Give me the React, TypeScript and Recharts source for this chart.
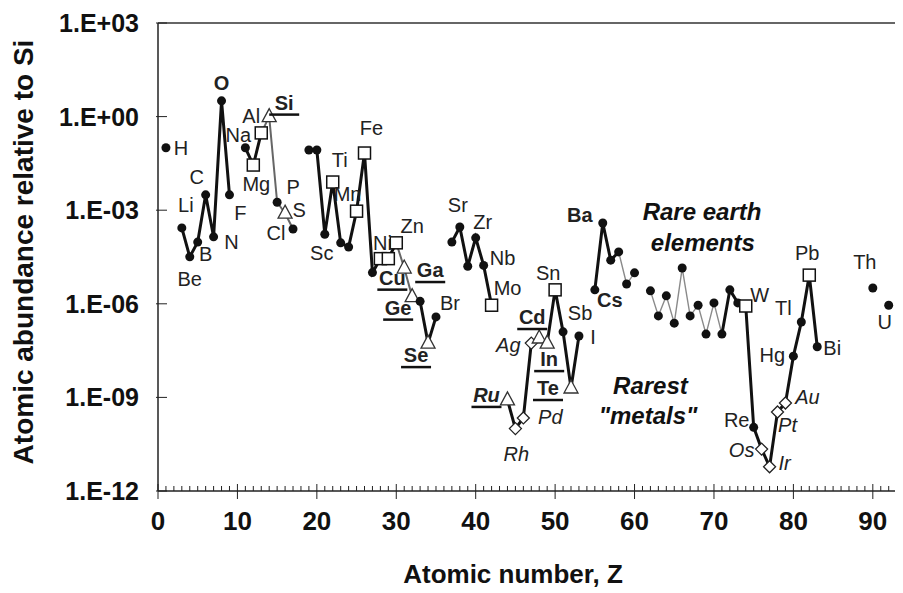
import React from 'react';
import { ComposedChart, Line, Scatter, XAxis, YAxis, ReferenceLine } from 'recharts';

const symbols = ['H', 'Li', 'Be', 'B', 'C', 'N', 'O', 'F', 'Na', 'Mg', 'Al', 'Si', 'P', 'S', 'Cl', 'K', 'Ca', 'Sc', 'Ti', 'V', 'Cr', 'Mn', 'Fe', 'Co', 'Ni', 'Cu', 'Zn', 'Ga', 'Ge', 'As', 'Se', 'Br', 'Rb', 'Sr', 'Y', 'Zr', 'Nb', 'Mo', 'Ru', 'Rh', 'Pd', 'Ag', 'Cd', 'In', 'Sn', 'Sb', 'Te', 'I', 'Cs', 'Ba', 'La', 'Ce', 'Pr', 'Nd', 'Sm', 'Eu', 'Gd', 'Tb', 'Dy', 'Ho', 'Er', 'Tm', 'Yb', 'Lu', 'Hf', 'Ta', 'W', 'Re', 'Os', 'Ir', 'Pt', 'Au', 'Hg', 'Tl', 'Pb', 'Bi', 'Th', 'U'];
const atomicNumbers = [1, 3, 4, 5, 6, 7, 8, 9, 11, 12, 13, 14, 15, 16, 17, 19, 20, 21, 22, 23, 24, 25, 26, 27, 28, 29, 30, 31, 32, 33, 34, 35, 37, 38, 39, 40, 41, 42, 44, 45, 46, 47, 48, 49, 50, 51, 52, 53, 55, 56, 57, 58, 59, 60, 62, 63, 64, 65, 66, 67, 68, 69, 70, 71, 72, 73, 74, 75, 76, 77, 78, 79, 80, 81, 82, 83, 90, 92];
const abundance = [
  1e-1, 2.7e-4, 3.2e-5, 9.5e-5, 3.1e-3, 1.4e-4, 3.2, 3.1e-3,
  1e-1, 2.8e-2, 0.3, 1, 1.8e-3, 8e-4, 2.5e-4,
  8.5e-2, 8.5e-2, 1.7e-4, 8e-3, 9e-5, 6.6e-5, 9.3e-4, 6.8e-2, 1e-5, 2.8e-5, 2.8e-5, 9e-5,
  1.4e-5, 1.7e-6, 1.2e-6, 5.5e-8, 3.8e-7,
  9.5e-5, 2.9e-4, 1.6e-5, 1.3e-4, 1.7e-5, 9e-7,
  8.3e-10, 1e-10, 2.2e-10, 5.5e-8, 8e-8, 5.5e-8, 2.8e-6, 1.26e-7, 2e-9, 9.3e-8,
  2.8e-6, 3.9e-4, 2.5e-5, 4.6e-5, 4.3e-6, 9.8e-6,
  2.6e-6, 4.1e-7, 1.8e-6, 2.4e-7, 1.4e-5, 4.1e-7, 9e-7, 1.07e-7, 1.07e-6, 1.07e-7,
  2.8e-6, 1.07e-6, 8.5e-7, 1.1e-10, 2.2e-11, 6e-12, 3.4e-10, 6.6e-10, 2.1e-8, 2.6e-7, 8.3e-6, 4.2e-8,
  3.2e-6, 9e-7,
];
// marker per element: c = filled circle, s = square, t = triangle, d = diamond
const squares = ['Mg', 'Al', 'Ti', 'Mn', 'Fe', 'Ni', 'Cu', 'Zn', 'Mo', 'Sn', 'W', 'Pb'];
const triangles = ['Si', 'S', 'Ga', 'Ge', 'Se', 'Ru', 'Cd', 'In', 'Te'];
const diamonds = ['Rh', 'Pd', 'Ag', 'Os', 'Ir', 'Pt', 'Au'];

const thickRuns = [
  ['Li', 'Be', 'B', 'C', 'N', 'O', 'F'],
  ['Na', 'Mg', 'Al'],
  ['K', 'Ca', 'Sc', 'Ti', 'V', 'Cr', 'Mn', 'Fe', 'Co', 'Ni', 'Cu', 'Zn'],
  ['Ge', 'As', 'Se', 'Br'],
  ['Rb', 'Sr', 'Y', 'Zr', 'Nb', 'Mo'],
  ['Ru', 'Rh', 'Pd', 'Ag', 'Cd', 'In', 'Sn', 'Sb', 'Te', 'I'],
  ['Cs', 'Ba', 'La', 'Ce'],
  ['Lu', 'Hf', 'Ta', 'W', 'Re', 'Os', 'Ir', 'Pt', 'Au', 'Hg', 'Tl', 'Pb', 'Bi'],
];
const grayRuns = [
  ['Al', 'Si', 'P', 'S', 'Cl'],
  ['Zn', 'Ga', 'Ge'],
];
const thinRuns = [
  ['Ce', 'Pr', 'Nd'],
  ['Sm', 'Eu', 'Gd', 'Tb', 'Dy', 'Ho', 'Er', 'Tm', 'Yb', 'Lu'],
];

// label: symbol, dx, dy, style
const labelOffsets: [string, number, number, string][] = [
  ['H', 15, 0, 'n'], ['Li', 4, -23, 'n'], ['Be', 0, 22, 'n'], ['B', 8, 12, 'n'],
  ['C', -9, -18, 'n'], ['N', 18, 5, 'n'], ['O', 0, -18, 'b'], ['F', 11, 18, 'n'],
  ['Na', -7, -13, 'n'], ['Mg', 3, 19, 'n'], ['Al', -10, -17, 'n'], ['Si', 15, -14, 'bu'],
  ['P', 16, -15, 'n'], ['S', 14, -3, 'n'], ['Cl', -17, 4, 'n'],
  ['Sc', -3, 19, 'n'], ['Ti', 7, -22, 'n'], ['Mn', -9, -17, 'n'], ['Fe', 7, -25, 'n'],
  ['Ni', 2, -16, 'n'], ['Cu', 4, 19, 'bu'], ['Zn', 16, -17, 'n'], ['Ga', 26, 2, 'bu'],
  ['Ge', -14, 11, 'bu'], ['Se', -12, 12, 'bu'], ['Br', 14, -14, 'n'],
  ['Sr', -2, -22, 'n'], ['Zr', 7, -16, 'n'], ['Nb', 19, -7, 'n'], ['Mo', 16, -17, 'n'],
  ['Ru', -21, -5, 'biu'], ['Rh', 1, 25, 'i'], ['Pd', 27, -1, 'i'], ['Ag', -23, 2, 'i'],
  ['Cd', -7, -21, 'bu'], ['In', 2, 16, 'bu'], ['Sn', -7, -17, 'n'], ['Sb', 17, -19, 'n'],
  ['Te', -23, 0, 'bu'], ['I', 14, 1, 'n'], ['Cs', 15, 10, 'b'], ['Ba', -23, -8, 'b'],
  ['W', 14, -11, 'n'], ['Re', -17, -7, 'n'], ['Os', -20, 1, 'i'], ['Ir', 15, -4, 'i'],
  ['Pt', 10, 13, 'i'], ['Au', 22, -6, 'i'], ['Hg', -21, -1, 'n'], ['Tl', -18, -14, 'n'],
  ['Pb', -2, -22, 'n'], ['Bi', 15, 1, 'n'], ['Th', -8, -26, 'n'], ['U', -4, 17, 'n'],
];

const notes: [string, number, number][] = [
  ['Rare earth', 68.5, 8.7e-4],
  ['elements', 68.6, 9.1e-5],
  ['Rarest', 62, 2.3e-9],
  ['"metals"', 61.7, 2.5e-10],
];

const xTicks = Array.from({ length: 94 }, (_, i) => i);
const yTicks = [1e-12, 1e-9, 1e-6, 1e-3, 1, 1e3];

const markerOf = (s: string) =>
  squares.includes(s) ? 's' : triangles.includes(s) ? 't' : diamonds.includes(s) ? 'd' : 'c';
const points = symbols.map((s, i) => ({ s, z: atomicNumbers[i], v: abundance[i], m: markerOf(s) }));
const bySym = (s: string) => points.find((p) => p.s === s)!;
const run = (list: string[]) => list.map(bySym);
const labelPoints = labelOffsets.map(([s, dx, dy, st]) => ({ ...bySym(s), dx, dy, st }));
const notePoints = notes.map(([t, z, v]) => ({ t, z, v }));

const FONT = "'Liberation Sans', Arial, sans-serif";

const fmtY = (v: number) => {
  const e = Math.round(Math.log10(v));
  const sign = e < 0 ? '-' : '+';
  return `1.E${sign}${String(Math.abs(e)).padStart(2, '0')}`;
};

const XTick = (props: any) => {
  const { x, y, payload } = props;
  const major = payload.value % 10 === 0;
  return (
    <g>
      <line x1={x} x2={x} y1={y - (major ? 7 : 5)} y2={y + (major ? 8 : 0)} stroke="#222" strokeWidth={1} />
      {major && (
        <text x={x} y={y + 39} textAnchor="middle" fontFamily="'Liberation Sans Narrow', 'Arial Narrow', Arial, sans-serif"
          fontWeight="bold" fontSize={26} fill="#111">
          {payload.value}
        </text>
      )}
    </g>
  );
};

const YTick = (props: any) => {
  const { x, y, payload } = props;
  return (
    <g>
      <line x1={x - 2} x2={x + 9} y1={y} y2={y} stroke="#222" strokeWidth={1} />
      <text x={x - 19} y={y + 9} textAnchor="end" fontFamily={FONT} fontWeight="bold" fontSize={25} fill="#111">
        {fmtY(payload.value)}
      </text>
    </g>
  );
};

const Marker = (props: any) => {
  const { cx, cy, payload } = props;
  if (cx == null || cy == null) return null;
  switch (payload.m) {
    case 's':
      return <rect x={cx - 6} y={cy - 6} width={12} height={12} fill="#fff" stroke="#111" strokeWidth={1.5} />;
    case 't':
      return <polygon points={`${cx},${cy - 8} ${cx - 7},${cy + 5} ${cx + 7},${cy + 5}`} fill="#fff" stroke="#333" strokeWidth={1.3} />;
    case 'd':
      return <polygon points={`${cx},${cy - 6} ${cx + 6},${cy} ${cx},${cy + 6} ${cx - 6},${cy}`} fill="#fff" stroke="#222" strokeWidth={1.3} />;
    default:
      return <circle cx={cx} cy={cy} r={4.5} fill="#111" />;
  }
};

const ElementLabel = (props: any) => {
  const { cx, cy, payload } = props;
  if (cx == null || cy == null) return null;
  const st: string = payload.st;
  const x = cx + payload.dx;
  const base = cy + payload.dy + 7;
  const w = payload.s.length * 12 + 6;
  return (
    <g>
      <text x={x} y={base} textAnchor="middle" fontFamily={FONT} fontSize={20}
        fontWeight={st.includes('b') ? 'bold' : 'normal'} fontStyle={st.includes('i') ? 'italic' : 'normal'} fill="#222">
        {payload.s}
      </text>
      {st.includes('u') && <line x1={x - w / 2} x2={x + w / 2} y1={base + 5} y2={base + 5} stroke="#111" strokeWidth={2.5} />}
    </g>
  );
};

const NoteLabel = (props: any) => {
  const { cx, cy, payload } = props;
  if (cx == null || cy == null) return null;
  return (
    <text x={cx} y={cy + 8} textAnchor="middle" fontFamily={FONT} fontSize={24} fontWeight="bold" fontStyle="italic" fill="#111">
      {payload.t}
    </text>
  );
};

const XTitle = () => (
  <text x={505} y={575} textAnchor="middle" fontFamily={FONT} fontWeight="bold" fontSize={26} fill="#111">
    Atomic number, Z
  </text>
);

const YTitle = () => (
  <text x={25} y={244} transform="rotate(-90 25 244)" textAnchor="middle" fontFamily={FONT} fontWeight="bold" fontSize={28} fill="#111">
    Atomic abundance relative to Si
  </text>
);

export default function App() {
  return (
    <ComposedChart width={895} height={585} margin={{ top: 15, right: 0, bottom: 0, left: 0 }}>
      <XAxis dataKey="z" type="number" domain={[0, 93.8]} ticks={xTicks} interval={0} allowDataOverflow
        height={102} tickSize={0} tickMargin={0} tick={<XTick />} axisLine={{ stroke: '#222', strokeWidth: 1.5 }}
        label={<XTitle />} />
      <YAxis type="number" scale="log" domain={[1e-12, 1e3]} ticks={yTicks} interval={0} allowDataOverflow
        width={150} tickSize={0} tickMargin={0} tick={<YTick />} axisLine={{ stroke: '#222', strokeWidth: 1.5 }}
        label={<YTitle />} />
      <ReferenceLine y={1e3} stroke="#333" strokeWidth={1.5} />
      {thinRuns.map((r, i) => (
        <Line key={`thin${i}`} data={run(r)} dataKey="v" stroke="#8a8a8a" strokeWidth={1.4} dot={false} isAnimationActive={false} />
      ))}
      {grayRuns.map((r, i) => (
        <Line key={`gray${i}`} data={run(r)} dataKey="v" stroke="#666" strokeWidth={2} dot={false} isAnimationActive={false} />
      ))}
      {thickRuns.map((r, i) => (
        <Line key={`thick${i}`} data={run(r)} dataKey="v" stroke="#111" strokeWidth={3} dot={false} isAnimationActive={false} />
      ))}
      <Scatter data={points} dataKey="v" shape={<Marker />} isAnimationActive={false} />
      <Scatter data={labelPoints} dataKey="v" shape={<ElementLabel />} isAnimationActive={false} />
      <Scatter data={notePoints} dataKey="v" shape={<NoteLabel />} isAnimationActive={false} />
    </ComposedChart>
  );
}
